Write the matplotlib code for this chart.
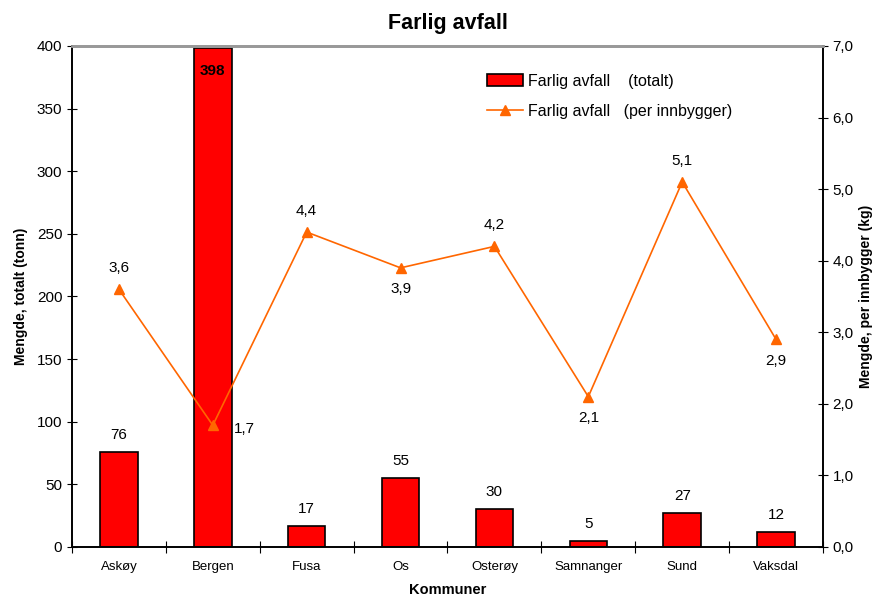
import matplotlib
matplotlib.use("Agg")
import numpy as np
import matplotlib.pyplot as plt
from matplotlib.ticker import FuncFormatter

plt.rcParams['font.family'] = ['Liberation Sans', 'DejaVu Sans']

kommuner = ["Askøy", "Bergen", "Fusa", "Os", "Osterøy", "Samnanger", "Sund", "Vaksdal"]
totalt = [76, 398, 17, 55, 30, 5, 27, 12]
per_innbygger = [3.6, 1.7, 4.4, 3.9, 4.2, 2.1, 5.1, 2.9]
# where the per-person label sits relative to its point
label_pos = ["over", "right", "over", "under", "over", "under", "over", "under"]

fig = plt.figure(figsize=(8.79, 5.98), dpi=100)
ax = fig.add_axes([0.0819, 0.0853, 0.8544, 0.8378])
ax2 = ax.twinx()

x = np.arange(len(kommuner))
bars = ax.bar(x, totalt, width=0.4, color="#FF0000", edgecolor="black", linewidth=1.2, zorder=2,
              label="Farlig avfall    (totalt)")
ax.set_xlim(-0.5, len(kommuner) - 0.5)
ax.set_ylim(0, 400)
ax.set_yticks(range(0, 401, 50))

for xi, v in zip(x, totalt):
    if v > 350:
        ax.text(xi, v - 12, str(v), ha="center", va="top", fontsize=11, fontweight="bold")
    else:
        ax.text(xi, v + 8, str(v), ha="center", va="bottom", fontsize=11)

line, = ax2.plot(x, per_innbygger, color="#FF6600", lw=1.2, marker="^", markersize=7,
                 label="Farlig avfall   (per innbygger)")
ax2.set_ylim(0, 7)
ax2.set_yticks(np.arange(0, 7.1, 1))
ax2.yaxis.set_major_formatter(FuncFormatter(lambda v, p: f"{v:.1f}".replace(".", ",")))

for xi, v, pos in zip(x, per_innbygger, label_pos):
    s = f"{v:.1f}".replace(".", ",")
    if pos == "over":
        ax2.text(xi, v + 0.2, s, ha="center", va="bottom", fontsize=11)
    elif pos == "under":
        ax2.text(xi, v - 0.2, s, ha="center", va="top", fontsize=11)
    else:
        ax2.text(xi + 0.22, v - 0.05, s, ha="left", va="center", fontsize=11)

# category ticks sit between the bars
ax.set_xticks(x)
ax.set_xticklabels(kommuner, fontsize=9.5)
ax.tick_params(axis="x", length=0, pad=10)
ax.set_xticks(np.arange(-0.5, len(kommuner), 1), minor=True)
ax.tick_params(axis="x", which="minor", length=8, direction="inout", width=0.8)

ax.tick_params(axis="y", labelsize=11, direction="inout", length=7, width=0.8)
ax2.tick_params(axis="y", labelsize=11, direction="inout", length=7, width=0.8)

for a in (ax, ax2):
    a.spines["top"].set_color("#999999")
    a.spines["top"].set_linewidth(2)
    a.spines["left"].set_linewidth(1.2)
    a.spines["right"].set_linewidth(1.2)
    a.spines["bottom"].set_linewidth(1.2)

ax.set_xlabel("Kommuner", fontsize=10.5, fontweight="bold", labelpad=7)
ax.set_ylabel("Mengde, totalt (tonn)", fontsize=10, fontweight="bold", labelpad=6)
ax2.set_ylabel("Mengde, per innbygger (kg)", fontsize=10, fontweight="bold", rotation=90, labelpad=4)
ax.set_title("Farlig avfall", fontsize=15.5, fontweight="bold", pad=12)

ax2.legend([bars, line], [bars.get_label(), line.get_label()], loc="upper left",
           bbox_to_anchor=(0.553, 0.945), frameon=False, fontsize=11.5, handlelength=2.25,
           handleheight=0.8, handletextpad=0.3, labelspacing=0.95, borderpad=0, borderaxespad=0)

fig.savefig("out.png", dpi=100)
